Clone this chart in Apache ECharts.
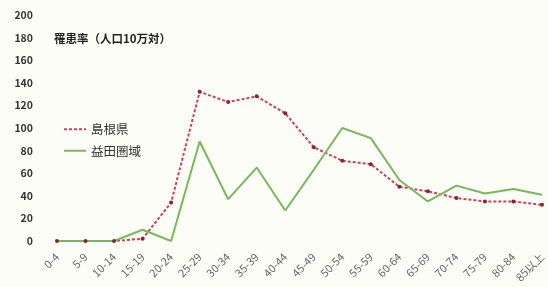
<!DOCTYPE html>
<html>
<head>
<meta charset="utf-8">
<script src="https://cdn.jsdelivr.net/npm/echarts@6/dist/echarts.min.js"></script>
<style>
* {margin:0; padding:0;}
body {background:#fdfdf8;}
#main {width:548px; height:287px;}
</style>
</head>
<body>
<div id="main"></div>
<script>
// 年齢階級
var ages = ['0-4','5-9','10-14','15-19','20-24','25-29','30-34','35-39','40-44','45-49',
            '50-54','55-59','60-64','65-69','70-74','75-79','80-84','85以上'];
// 罹患率（人口10万対）
var shimane = [0,0,0,2,34,132,123,128,113,83,71,68,48,44,38,35,35,32];
var masuda  = [0,0,0,10,0,88,37,65,27,63,100,91,54,35,49,42,46,41];

var chart = echarts.init(document.getElementById('main'));
chart.setOption({
  backgroundColor: '#fdfdf8',
  textStyle: {fontFamily: 'Noto Sans CJK JP'},
  title: {
    text: '罹患率（人口10万対）',
    left: 49, top: 28,
    textStyle: {fontSize: 11.5, fontWeight: 'bold', color: '#222'}
  },
  legend: {
    orient: 'vertical',
    left: 58, top: 118,
    itemGap: 9,
    itemWidth: 22,
    itemStyle: {opacity: 0},
    textStyle: {fontSize: 12.5, color: '#333'},
    data: ['島根県', '益田圏域']
  },
  grid: {left: 57, right: 1, top: 15, bottom: 46},
  xAxis: {
    type: 'category',
    data: ages,
    boundaryGap: false,
    axisLine: {show: false},
    axisTick: {show: false},
    axisLabel: {rotate: 45, fontSize: 11, color: '#666', margin: 14, interval: 0}
  },
  yAxis: {
    type: 'value',
    min: 0, max: 200, interval: 20,
    splitLine: {show: false},
    axisLine: {show: false},
    axisTick: {show: false},
    axisLabel: {fontSize: 10.5, fontWeight: 'bold', color: '#333', margin: 24}
  },
  series: [
    {
      name: '島根県',
      type: 'line',
      data: shimane,
      symbol: 'circle',
      symbolSize: 4,
      itemStyle: {color: '#8a2234'},
      lineStyle: {color: '#c8425a', width: 2, type: [3, 2]}
    },
    {
      name: '益田圏域',
      type: 'line',
      data: masuda,
      symbol: 'none',
      itemStyle: {color: '#79b85a'},
      lineStyle: {color: '#79b85a', width: 2}
    }
  ]
});
</script>
</body>
</html>
